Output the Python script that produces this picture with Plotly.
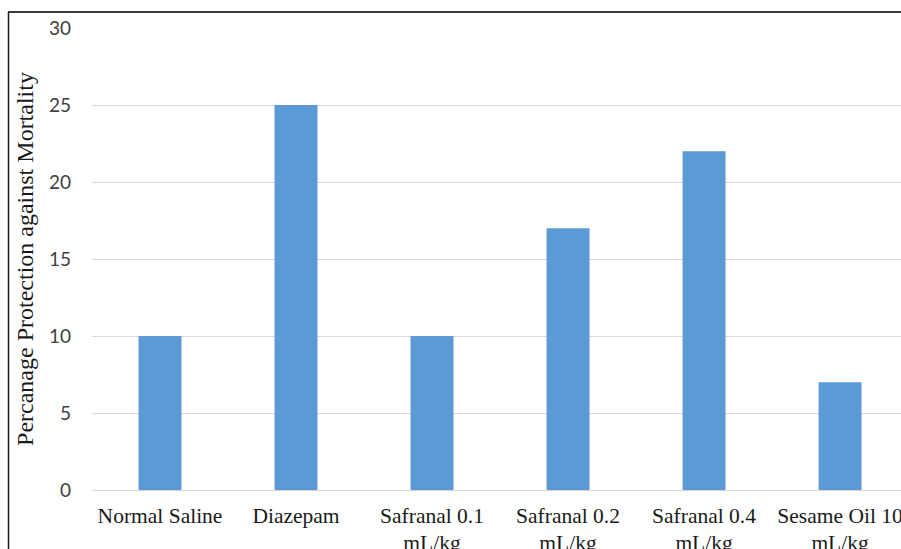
import plotly.graph_objects as go

categories = ["Normal Saline", "Diazepam", "Safranal 0.1<br>mL/kg", "Safranal 0.2<br>mL/kg",
              "Safranal 0.4<br>mL/kg", "Sesame Oil 10<br>mL/kg"]
values = [10, 25, 10, 17, 22, 7]
y_ticks = [0, 5, 10, 15, 20, 25, 30]
y_title = "Percanage Protection against Mortality"

W, H = 901, 549
fig = go.Figure(go.Bar(x=categories, y=values, marker=dict(color="#5B9BD5", line=dict(width=0))))

fig.update_layout(
    width=W, height=H,
    margin=dict(l=0, r=0, t=0, b=0),
    plot_bgcolor="white", paper_bgcolor="white",
    bargap=0.684,
    showlegend=False,
    xaxis=dict(domain=[92 / W, 1], range=[-0.5, 5.448], showgrid=False, showline=False,
               ticks="", automargin=False, ticklabelstandoff=10,
               tickfont=dict(family="Liberation Serif", size=21.5, color="#1a1a1a")),
    yaxis=dict(domain=[(H - 490) / H, (H - 28) / H], range=[0, 30], tickvals=y_ticks,
               showgrid=True, gridcolor="#d9d9d9", gridwidth=1, zeroline=True,
               zerolinecolor="#d9d9d9", zerolinewidth=1, showline=False, ticks="",
               automargin=False, ticklabelstandoff=20,
               tickfont=dict(family="Lato", size=19, color="#404040"),
               title=dict(text=y_title, standoff=8,
                          font=dict(family="Liberation Serif", size=24, color="#1a1a1a"))),
)

# outer border lines (top and left)
fig.add_shape(type="line", xref="paper", yref="paper", x0=8 / W, x1=1,
              y0=(H - 12) / H, y1=(H - 12) / H,
              line=dict(color="#3a3a3a", width=2))
fig.add_shape(type="line", xref="paper", yref="paper", x0=8.5 / W, x1=8.5 / W, y0=0,
              y1=(H - 12) / H,
              line=dict(color="#1a1a1a", width=1.5))

fig.write_html(
    "out.html",
    config={"displayModeBar": False},
    post_script="document.body.style.margin='0';document.body.style.overflow='hidden';",
)
